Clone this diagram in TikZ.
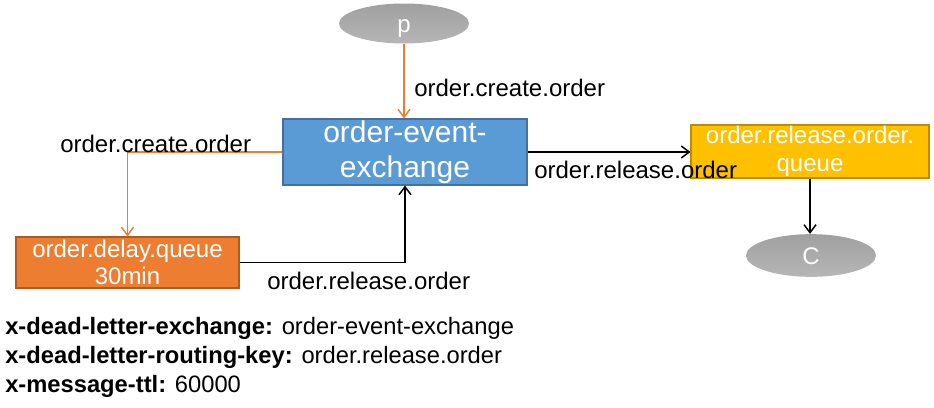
\documentclass[tikz,border=0pt]{standalone}
\usepackage{fontspec}
\setmainfont{Liberation Sans}
\usetikzlibrary{arrows.meta,shapes.geometric}
\definecolor{exblue}{HTML}{5B9BD5}
\definecolor{exblueb}{HTML}{41719C}
\definecolor{dlorange}{HTML}{ED7D31}
\definecolor{dlorangeb}{HTML}{AE5A21}
\definecolor{rqyellow}{HTML}{FFC000}
\definecolor{rqyellowb}{HTML}{BC8C00}
\definecolor{elgraytop}{HTML}{A0A0A0}
\definecolor{elgraybot}{HTML}{B6B6B6}
\tikzset{
  lbl/.style={anchor=base west, inner sep=0pt, font=\fontsize{18}{21}\selectfont},
  boxnode/.style={draw, line width=0.8pt, inner sep=0pt, text=white, align=center},
  ellnode/.style={ellipse, top color=elgraytop, bottom color=elgraybot, draw=none, text=white,
     inner sep=0pt, text height=12.8pt, text depth=0pt, font=\fontsize{18}{21}\selectfont},
  arr/.style={line width=1.1pt, -{Straight Barb[length=6pt,width=9pt,line width=1.1pt]}},
}
\begin{document}
\begin{tikzpicture}[x=0.75pt,y=-0.75pt]
\useasboundingbox (0,0) rectangle (934,407);
\fill[white] (0,0) rectangle (934,407);
% nodes
\node[ellnode, minimum width=97.5pt, minimum height=30pt] (p) at (404,23.5) {p};
\node[boxnode, fill=exblue, draw=exblueb, minimum width=183pt, minimum height=49.5pt,
      font=\fontsize{22.5}{26}\selectfont] (ex) at (405,152) {order-event-\\exchange};
\node[boxnode, fill=dlorange, draw=dlorangeb, minimum width=167.25pt, minimum height=38.25pt,
      font=\fontsize{18}{20.25}\selectfont] (dq) at (127.5,262.5) {order.delay.queue\\30min};
\node[boxnode, fill=rqyellow, draw=rqyellowb, minimum width=178.5pt, minimum height=39.75pt,
      font=\fontsize{18}{21}\selectfont] (rq) at (810,151.5) {order.release.order.\\queue};
\node[ellnode, minimum width=97.5pt, minimum height=32pt] (c) at (811,255.5) {C};
% connectors
\draw[arr, draw=dlorange] (p.south) -- (p.south |- ex.north);
\draw[arr, draw=dlorange] (ex.west) -| (dq.north);
\draw[arr, draw=black] (dq.east) -| (ex.south);
\draw[arr, draw=black] (ex.east) -- (rq.west |- ex.east);
\draw[arr, draw=black] (rq.south) -- (rq.south |- c.north);
% labels
\node[lbl] (l1) at (414,96.5) {order.create.order};
\node[lbl] (l2) at (60,152) {order.create.order};
\node[lbl] (l3) at (267,289) {order.release.order};
\node[lbl] (l4) at (534,178) {order.release.order};
% notes
\node[lbl, font=\fontsize{17.8}{21}\selectfont] (n1) at (5,334) {\textbf{x-dead-letter-exchange:} order-event-exchange};
\node[lbl, font=\fontsize{17.8}{21}\selectfont] (n2) at (5,363) {\textbf{x-dead-letter-routing-key:} order.release.order};
\node[lbl, font=\fontsize{17.8}{21}\selectfont] (n3) at (5,392) {\textbf{x-message-ttl:} 60000};
\end{tikzpicture}
\end{document}
